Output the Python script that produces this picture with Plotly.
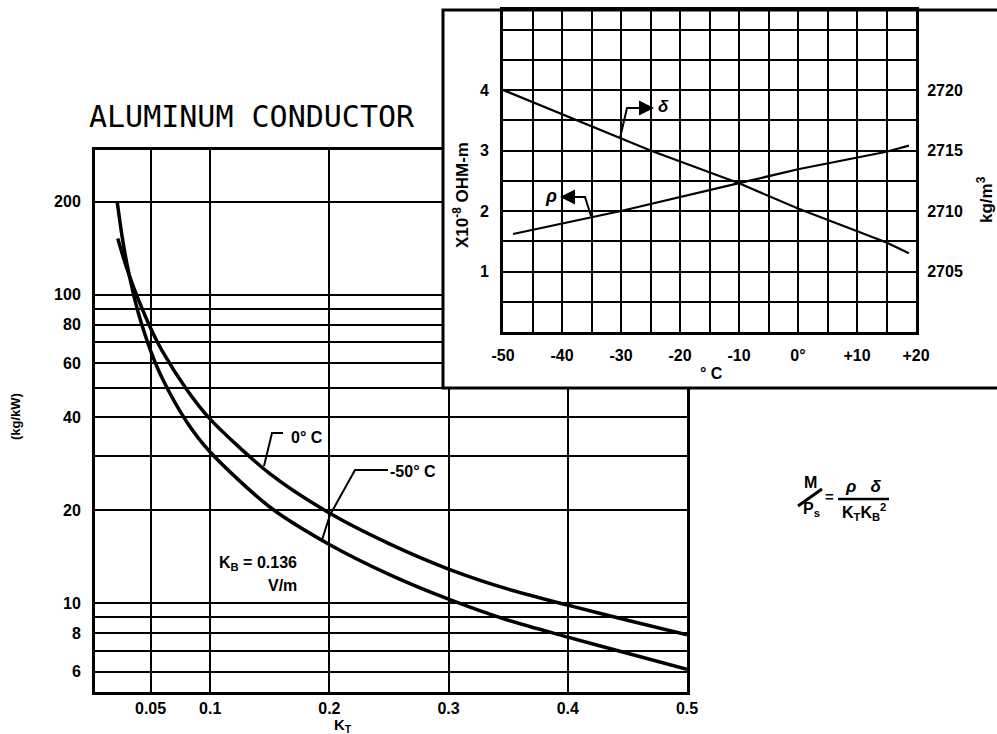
import plotly.graph_objects as go

W, H = 997, 734


def PX(x):
    return x / W


def PY(y):
    return (H - y) / H


# ---------------- main chart data ----------------
kt_0c = [0.0225, 0.030, 0.040, 0.050, 0.060, 0.080, 0.100, 0.150, 0.200, 0.250, 0.300, 0.350, 0.400, 0.450, 0.500]
m_0c = [152, 122, 96, 78, 65.5, 49.5, 39.5, 26.3, 19.6, 15.6, 12.9, 11.1, 9.85, 8.8, 7.9]

kt_m50 = [0.022, 0.026, 0.030, 0.035, 0.040, 0.050, 0.060, 0.080, 0.100, 0.150, 0.200, 0.250, 0.300, 0.350, 0.400, 0.450, 0.500]
m_m50 = [200, 155.6, 127, 103, 86.5, 65.9, 53.4, 38.9, 30.9, 20.5, 15.5, 12.4, 10.3, 8.8, 7.76, 6.88, 6.1]

main_x_ticks = [0.05, 0.1, 0.2, 0.3, 0.4, 0.5]
main_x_labels = ['0.05', '0.1', '0.2', '0.3', '0.4', '0.5']
main_y_grid = [6, 7, 8, 9, 10, 20, 30, 40, 50, 60, 70, 80, 90, 100, 200]
main_y_labels = ['6', '', '8', '', '10', '20', '', '40', '', '60', '', '80', '', '100', '200']

# ---------------- inset data ----------------
temp_rho = [-48.3, -30, -10, 0, 15, 18.8]
rho = [1.62, 2.0, 2.46, 2.69, 2.98, 3.08]
temp_delta = [-50, -25, -10, 0, 15, 18.8]
delta = [2720, 2715, 2712.3, 2710.2, 2707.4, 2706.5]

inset_x_ticks = list(range(-50, 25, 5))
inset_x_labels = ['-50', '', '-40', '', '-30', '', '-20', '', '-10', '', '0°', '', '+10', '', '+20']
inset_yl_ticks = [0.5 * i for i in range(11)]
inset_yl_labels = ['', '', '1', '', '2', '', '3', '', '4', '', '']
inset_yr_ticks = [2705, 2710, 2715, 2720]
inset_yr_labels = ['2705', '2710', '2715', '2720']

FONT = 'Liberation Sans'
tickfont = dict(family=FONT, size=16, color='black', weight=700)

fig = go.Figure()

curve_line = dict(color='black', width=3.5, shape='spline', smoothing=0.8)
fig.add_trace(go.Scatter(x=kt_0c, y=m_0c, mode='lines', line=curve_line,
                         xaxis='x', yaxis='y', hoverinfo='skip', name='0°C'))
fig.add_trace(go.Scatter(x=kt_m50, y=m_m50, mode='lines', line=curve_line,
                         xaxis='x', yaxis='y', hoverinfo='skip', name='-50°C'))

# cover subplot (white box under the inset)
fig.add_trace(go.Scatter(x=[0.5], y=[0.5], mode='markers', marker=dict(opacity=0),
                         xaxis='x2', yaxis='y2', hoverinfo='skip'))

# inset traces
fig.add_trace(go.Scatter(x=temp_rho, y=rho, mode='lines', line=dict(color='black', width=2.2),
                         xaxis='x3', yaxis='y3', hoverinfo='skip', name='rho'))
fig.add_trace(go.Scatter(x=temp_delta, y=delta, mode='lines', line=dict(color='black', width=2.2),
                         xaxis='x3', yaxis='y4', hoverinfo='skip', name='delta'))

main_dom_x = [PX(95), PX(687)]
main_dom_y = [PY(692), PY(150)]
inset_dom_x = [PX(503), PX(916)]
inset_dom_y = [PY(332), PY(10)]
px_per_unit = 60.5
yl_top = (332 - 10) / px_per_unit

fig.update_layout(
    width=W, height=H, autosize=False,
    margin=dict(l=0, r=0, t=0, b=0, pad=0, autoexpand=False),
    paper_bgcolor='white', plot_bgcolor='white',
    showlegend=False,
    xaxis=dict(domain=main_dom_x, range=[0.0034, 0.5], anchor='y', automargin=False,
               tickvals=main_x_ticks, ticktext=main_x_labels, tickfont=tickfont,
               showgrid=True, gridcolor='black', gridwidth=1.5,
               showline=True, linecolor='black', linewidth=3, mirror=True,
               zeroline=False, ticks='', ticklabelstandoff=0),
    yaxis=dict(domain=main_dom_y, type='log', range=[0.712, 2.469], anchor='x', automargin=False,
               tickvals=main_y_grid, ticktext=main_y_labels, tickfont=tickfont,
               showgrid=True, gridcolor='black', gridwidth=1.5,
               showline=True, linecolor='black', linewidth=3, mirror=True,
               zeroline=False, ticks='', ticklabelstandoff=8),
    xaxis2=dict(domain=[PX(443), 1.0], range=[0, 1], anchor='y2', visible=False, automargin=False),
    yaxis2=dict(domain=[PY(388), PY(10)], range=[0, 1], anchor='x2', visible=False, automargin=False),
    xaxis3=dict(domain=inset_dom_x, range=[-50, 20], anchor='y3', automargin=False,
                tickvals=inset_x_ticks, ticktext=inset_x_labels, tickfont=tickfont,
                showgrid=True, gridcolor='black', gridwidth=1.5,
                showline=True, linecolor='black', linewidth=3, mirror=True,
                zeroline=False, ticks='', ticklabelstandoff=7),
    yaxis3=dict(domain=inset_dom_y, range=[0, yl_top], anchor='x3', automargin=False,
                tickvals=inset_yl_ticks, ticktext=inset_yl_labels, tickfont=tickfont,
                showgrid=True, gridcolor='black', gridwidth=1.5,
                showline=True, linecolor='black', linewidth=3,
                zeroline=False, ticks='', ticklabelstandoff=8),
    yaxis4=dict(overlaying='y3', side='right', anchor='x3', automargin=False,
                range=[2700, 2700 + 5 * yl_top],
                tickvals=inset_yr_ticks, ticktext=inset_yr_labels, tickfont=tickfont,
                showgrid=False, showline=True, linecolor='black', linewidth=3,
                zeroline=False, ticks='', ticklabelstandoff=5),
)


def ann(x, y, text, size=15, angle=0, family=FONT, xanchor='center', yanchor='middle', weight=700):
    fig.add_annotation(x=PX(x), y=PY(y), xref='paper', yref='paper', text=text,
                       showarrow=False, textangle=angle, xanchor=xanchor, yanchor=yanchor,
                       font=dict(family=family, size=size, color='black', weight=weight))


# titles and axis labels
ann(252, 117, 'ALUMINUM CONDUCTOR', size=30, family='DejaVu Sans Mono', weight=400)
ann(15, 417, '(kg/kW)', size=13, angle=-90)
ann(343, 725, 'K<sub>T</sub>', size=15)
ann(461, 195, 'X10<sup>-8</sup> OHM-m', size=17, angle=-90)
ann(985, 200, 'kg/m<sup>3</sup>', size=17, angle=-90)
ann(711, 373, '° C', size=16)

# curve labels
ann(307, 437, '0° C', size=16)
ann(413, 471, '-50° C', size=16)
ann(258, 563, 'K<sub>B</sub> = 0.136', size=16)
ann(282, 585, 'V/m', size=16)

# inset labels
ann(663, 107, '<i>δ</i>', size=17)
ann(551, 196, '<i>ρ</i>', size=18)

# formula
ann(810, 482, 'M', size=16)
ann(811, 509, 'P<sub>s</sub>', size=16)
ann(829, 496, '=', size=15)
ann(863, 486, '<i>ρ</i>   <i>δ</i>', size=17)
ann(864, 512, 'K<sub>T</sub>K<sub>B</sub><sup>2</sup>', size=16)

# leader lines
leaders = [
    [(283, 433), (272, 433), (264, 466)],
    [(388, 470), (355, 470), (330, 515), (322, 540)],
    [(620, 138), (627, 108), (645, 108)],
    [(591, 216), (585, 197), (570, 197)],
]
for pts in leaders:
    path = 'M ' + ' L '.join(f'{PX(x):.5f},{PY(y):.5f}' for x, y in pts)
    fig.add_shape(type='path', path=path, xref='paper', yref='paper',
                  line=dict(color='black', width=2), layer='above')

# arrowheads
fig.add_annotation(x=PX(654), y=PY(108), xref='paper', yref='paper', text='',
                   showarrow=True, ax=-12, ay=0, arrowhead=2, arrowsize=1, arrowwidth=3,
                   arrowcolor='black')
fig.add_annotation(x=PX(560), y=PY(197), xref='paper', yref='paper', text='',
                   showarrow=True, ax=12, ay=0, arrowhead=2, arrowsize=1, arrowwidth=3,
                   arrowcolor='black')

# formula slash and fraction bar
fig.add_shape(type='line', x0=PX(798), y0=PY(506), x1=PX(822), y1=PY(489),
              xref='paper', yref='paper', line=dict(color='black', width=3), layer='above')
fig.add_shape(type='line', x0=PX(838), y0=PY(499), x1=PX(889), y1=PY(499),
              xref='paper', yref='paper', line=dict(color='black', width=2.5), layer='above')

# inset frame
fig.add_shape(type='rect', x0=PX(443), y0=PY(388), x1=1.01, y1=PY(10),
              xref='paper', yref='paper', line=dict(color='black', width=3),
              fillcolor='rgba(0,0,0,0)', layer='above')

fig.write_html('out.html')
